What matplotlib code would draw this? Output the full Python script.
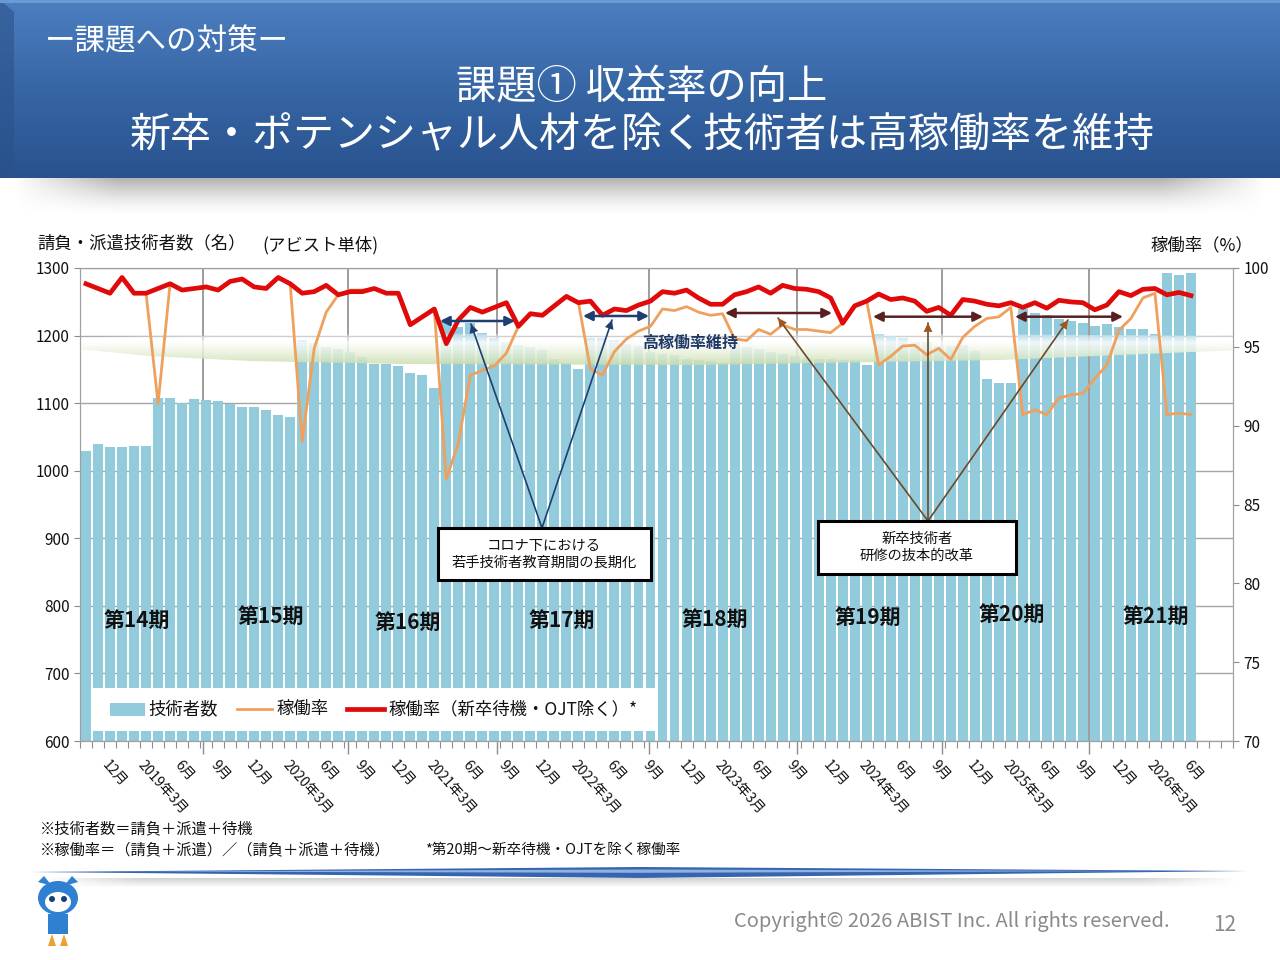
import numpy as np
import matplotlib
matplotlib.use('Agg')
import matplotlib.pyplot as plt
from matplotlib.patches import Polygon, Rectangle, Ellipse, Circle
from matplotlib.lines import Line2D
import matplotlib.transforms as mtransforms

plt.rcParams['font.family'] = ['Noto Sans CJK JP', 'DejaVu Sans']

# ---------------- data ----------------
engineers = [1029, 1039, 1035, 1035, 1036, 1036, 1108, 1107, 1100, 1106, 1104, 1103,
             1098, 1095, 1095, 1090, 1083, 1079, 1194, 1189, 1183, 1180, 1175, 1169,
             1158, 1158, 1155, 1145, 1141, 1122, 1220, 1212, 1218, 1204, 1196, 1191,
             1186, 1183, 1178, 1166, 1160, 1150, 1196, 1196, 1193, 1187, 1185, 1175,
             1173, 1171, 1166, 1164, 1162, 1160, 1189, 1183, 1180, 1176, 1172, 1170,
             1167, 1166, 1166, 1164, 1164, 1156, 1203, 1199, 1196, 1190, 1190, 1184,
             1184, 1186, 1177, 1135, 1130, 1130, 1240, 1234, 1230, 1225, 1221, 1218,
             1214, 1217, 1212, 1210, 1209, 1202, 1292, 1290, 1293]

util_excl = [99.0, 98.7, 98.4, 99.4, 98.4, 98.4, 98.7, 99.0, 98.6, 98.7, 98.8, 98.6,
             99.15, 99.3, 98.8, 98.7, 99.4, 99.0, 98.4, 98.5, 98.9, 98.3, 98.5, 98.5,
             98.7, 98.4, 98.4, 96.4, 96.9, 97.4, 95.2, 96.7, 97.5, 97.2, 97.5, 97.8,
             96.3, 97.1, 97.0, 97.6, 98.2, 97.8, 97.9, 97.0, 97.4, 97.3, 97.65, 97.9,
             98.5, 98.4, 98.6, 98.1, 97.7, 97.7, 98.3, 98.5, 98.8, 98.4, 98.9, 98.7,
             98.65, 98.5, 98.1, 96.5, 97.6, 97.9, 98.35, 98.0, 98.1, 97.9, 97.25, 97.5,
             97.0, 98.0, 97.9, 97.7, 97.6, 97.8, 97.5, 97.8, 97.45, 97.95, 97.85, 97.8,
             97.35, 97.65, 98.5, 98.25, 98.65, 98.7, 98.3, 98.45, 98.25]

util_all = [99.0, 98.7, 98.4, 99.4, 98.4, 98.4, 91.4, 99.0, 98.6, 98.7, 98.8, 98.6,
            99.15, 99.3, 98.8, 98.7, 99.4, 99.0, 89.0, 94.9, 97.2, 98.3, 98.6, 98.6,
            98.7, 98.4, 98.4, 96.4, 96.9, 97.4, 86.6, 88.9, 93.2, 93.5, 93.8, 94.6,
            96.3, 97.1, 97.0, 97.6, 98.2, 97.8, 93.6, 93.2, 94.7, 95.5, 96.0, 96.3,
            97.4, 97.3, 97.55, 97.2, 97.0, 97.1, 95.5, 95.4, 96.1, 95.8, 96.4, 96.1,
            96.1, 96.0, 95.9, 96.5, 97.6, 97.9, 93.85, 94.4, 95.05, 95.1, 94.5, 94.9,
            94.2, 95.6, 96.3, 96.8, 96.9, 97.5, 90.7, 91.0, 90.7, 91.75, 91.95, 92.05,
            93.0, 93.85, 96.05, 96.8, 98.1, 98.4, 90.7, 90.8, 90.7]

tick_labels = ['12月', '2019年3月', '6月', '9月', '12月', '2020年3月', '6月', '9月',
               '12月', '2021年3月', '6月', '9月', '12月', '2022年3月', '6月', '9月',
               '12月', '2023年3月', '6月', '9月', '12月', '2024年3月', '6月', '9月',
               '12月', '2025年3月', '6月', '9月', '12月', '2026年3月', '6月']
tick_index = [2 + 3 * k for k in range(len(tick_labels))]

period_labels = ['第14期', '第15期', '第16期', '第17期', '第18期', '第19期', '第20期', '第21期']
period_x = [4.25, 15.4, 26.8, 39.6, 52.4, 65.1, 77.1, 89.1]
period_y = [779, 785, 776, 779, 780.5, 783.5, 788, 785]

year_grid = [9.74, 21.8, 34.2, 46.9, 59.2, 71.3, 83.5]

# ---------------- figure ----------------
W, H = 1280, 960
fig = plt.figure(figsize=(12.8, 9.6), dpi=100)
fig.patch.set_facecolor('white')

def fx(px):
    return px / W

def fy(py):
    return 1 - py / H

bg = fig.add_axes([0, 0, 1, 1])
bg.set_xlim(0, W)
bg.set_ylim(H, 0)
bg.axis('off')
bg.set_zorder(0)

# header banner gradient
t = np.linspace(0, 1, 180)[:, None]
top = np.array([0x4c, 0x7e, 0xc0]) / 255
mid = np.array([0x37, 0x66, 0xa5]) / 255
bot = np.array([0x28, 0x52, 0x8e]) / 255
col = np.where(t < 0.5, top + (mid - top) * (t / 0.5), mid + (bot - mid) * ((t - 0.5) / 0.5))
grad = np.repeat(col[:, None, :], 2, axis=1).reshape(180, 2, 3)
bg.imshow(grad, extent=[0, W, 178, 0], aspect='auto', interpolation='bilinear', zorder=1)
bg.add_patch(Polygon([[0, 0], [14, 12], [14, 166], [0, 178]], closed=True,
                     facecolor='#2a528a', edgecolor='none', alpha=0.6, zorder=2))
bg.add_patch(Rectangle((0, 0), W, 3, facecolor='#6a9ad6', edgecolor='none', zorder=2))

# shadow under banner
sh_h, sh_w = 40, 200
vy = np.linspace(1, 0, sh_h)[:, None] ** 1.5
hx = np.clip(np.minimum(np.linspace(0, 1, sh_w), np.linspace(1, 0, sh_w)) * 12, 0, 1)[None, :]
shadow = np.zeros((sh_h, sh_w, 4))
shadow[..., :3] = 0.45
shadow[..., 3] = 0.55 * vy * hx
bg.imshow(shadow, extent=[10, 1270, 216, 178], aspect='auto', interpolation='bilinear', zorder=1)

bg.text(45, 42, 'ー課題への対策ー', color='white', fontsize=22, va='center', ha='left', zorder=3)
bg.text(642, 88, '課題① 収益率の向上', color='white', fontsize=29, va='center', ha='center', zorder=3)
bg.text(642, 136, '新卒・ポテンシャル人材を除く技術者は高稼働率を維持', color='white',
        fontsize=29.5, va='center', ha='center', zorder=3)

# axis titles
bg.text(37, 243, '請負・派遣技術者数（名）', fontsize=12.5, va='center', ha='left', color='#111111')
bg.text(262, 245, '(アビスト単体)', fontsize=12.5, va='center', ha='left', color='#111111')
bg.text(1150, 245, '稼働率（%）', fontsize=12.5, va='center', ha='left', color='#111111')

# footnotes
bg.text(40, 829, '※技術者数＝請負＋派遣＋待機', fontsize=11, va='center', ha='left', color='#111111')
bg.text(40, 850, '※稼働率＝（請負＋派遣）／（請負＋派遣＋待機）', fontsize=11, va='center',
        ha='left', color='#111111')
bg.text(425, 850, '*第20期～新卒待機・OJTを除く稼働率', fontsize=10.5, va='center', ha='left',
        color='#111111')

# footer line
bg.add_patch(Polygon([[30, 872], [640, 867], [1248, 871], [640, 878]], closed=True,
                     facecolor='#3565ae', edgecolor='none', zorder=2))
bg.add_patch(Polygon([[120, 871.5], [640, 869.5], [1160, 871], [640, 872.8]], closed=True,
                     facecolor='#8fb2e2', edgecolor='none', zorder=3))
fsh = np.zeros((10, 200, 4))
fsh[..., :3] = 0.5
fsh[..., 3] = (np.linspace(0.35, 0, 10)[:, None]) * hx
bg.imshow(fsh, extent=[40, 1240, 888, 878], aspect='auto', interpolation='bilinear', zorder=1)

bg.text(952, 922, 'Copyright© 2026 ABIST Inc. All rights reserved.', fontsize=14.5, color='#8a8a8a',
        va='center', ha='center')
bg.text(1225, 925, '12', fontsize=15, color='#8a8a8a', va='center', ha='center')

# simple mascot mark
blue = '#2f80d0'
bg.add_patch(Polygon([[38, 882], [44, 876], [52, 886]], closed=True, facecolor=blue, edgecolor='none', zorder=2))
bg.add_patch(Polygon([[78, 882], [72, 876], [64, 886]], closed=True, facecolor=blue, edgecolor='none', zorder=2))
bg.add_patch(Ellipse((58, 898), 40, 34, facecolor=blue, edgecolor='none', zorder=2))
bg.add_patch(Ellipse((58, 902), 26, 20, facecolor='white', edgecolor='none', zorder=3))
bg.add_patch(Circle((52, 899), 3, facecolor='#1a3e7a', edgecolor='none', zorder=4))
bg.add_patch(Circle((64, 899), 3, facecolor='#1a3e7a', edgecolor='none', zorder=4))
bg.add_patch(Rectangle((48, 914), 20, 20, facecolor=blue, edgecolor='none', zorder=2))
bg.add_patch(Polygon([[52, 934], [56, 946], [48, 946]], closed=True, facecolor='#f0a030', edgecolor='none'))
bg.add_patch(Polygon([[64, 934], [68, 946], [60, 946]], closed=True, facecolor='#f0a030', edgecolor='none'))

# ---------------- main chart ----------------
ax = fig.add_axes([fx(80), fy(741), (1233 - 80) / W, (741 - 268) / H])
ax.set_zorder(1)
ax.patch.set_alpha(0)
n = len(engineers)
x = np.arange(n)

ax.set_xlim(-0.5, 95.5)
ax.set_ylim(600, 1300)
ax.set_yticks(np.arange(600, 1301, 100))
ax.yaxis.grid(True, color='#a6a6a6', lw=1.0, zorder=0)
ax.set_axisbelow(True)
for g in year_grid:
    ax.axvline(g, color='#8c8c8c', lw=1.2, zorder=0.5)

ax.bar(x, engineers, width=0.83, color='#92cbdc', zorder=2)

def dxp(px):
    return (px - 80) / 1153 * 96 - 0.5

def dyl(py):
    return 1300 - (py - 268) / 473 * 700

def dyr(py):
    return 100 - (py - 268) / 473 * 30

# green band ("高稼働率維持")
band_pts_px = [(78, 337), (400, 334), (800, 333), (1240, 336), (1240, 350), (1000, 360),
               (700, 365), (400, 364), (250, 361), (150, 356), (78, 349)]
band_poly = Polygon([(dxp(a), dyl(b)) for a, b in band_pts_px], closed=True,
                    facecolor='none', edgecolor='none', transform=ax.transData)
ax.add_patch(band_poly)
nb = 80
tt = np.linspace(0, 1, nb)
white = np.array([1.0, 1.0, 1.0])
green = np.array([0xc8, 0xdc, 0xa8]) / 255
bcol = np.array([white + (green - white) * min(1, max(0, (v - 0.3) / 0.7)) ** 1.1 for v in tt])
balpha = np.clip(0.2 + tt * 2.2, 0, 0.85)
band_img = np.zeros((nb, 2, 4))
band_img[:, :, :3] = bcol[:, None, :]
band_img[:, :, 3] = balpha[:, None]
im = ax.imshow(band_img, extent=[dxp(78), dxp(1240), dyl(366), dyl(332)], aspect='auto',
               interpolation='bilinear', zorder=3, origin='upper')
im.set_clip_path(band_poly)
ax.set_ylim(600, 1300)
ax.set_xlim(-0.5, 95.5)

# ticks
ax.set_xticks(year_grid)
ax.set_xticklabels([])
ax.set_xticks(np.arange(-0.5, 96, 1), minor=True)
ax.tick_params(axis='x', which='major', length=9, color='#8c8c8c', width=1)
ax.tick_params(axis='x', which='minor', length=5, color='#8c8c8c', width=0.8)
ax.tick_params(axis='y', length=4, color='#8c8c8c', labelsize=11, labelcolor='#111111')
for s in ['left', 'bottom', 'top', 'right']:
    ax.spines[s].set_color('#a0a0a0')

trans = mtransforms.blended_transform_factory(ax.transData, fig.transFigure)
for i, lab in zip(tick_index, tick_labels):
    ax.text(i - 0.45, fy(763), lab, transform=trans, rotation=-48, rotation_mode='anchor',
            ha='left', va='center', fontsize=10, color='#111111')

for lab, px_, py_ in zip(period_labels, period_x, period_y):
    ax.text(px_, py_, lab, fontsize=15, fontweight='bold', ha='center', va='center',
            color='#111111', zorder=4)

# right axis
ax2 = ax.twinx()
ax2.set_ylim(70, 100)
ax2.set_yticks(np.arange(70, 101, 5))
ax2.tick_params(axis='y', length=4, color='#8c8c8c', labelsize=11, labelcolor='#111111')
for s in ['left', 'bottom', 'top', 'right']:
    ax2.spines[s].set_color('#a0a0a0')

ax2.plot(x, util_all, color='#efa05c', lw=2.0, zorder=3, solid_joinstyle='round')
ax2.plot(x, util_excl, color='#e00a0a', lw=3.4, zorder=4, solid_joinstyle='round')

ax2.text(dxp(690), dyr(343), '高稼働率維持', fontsize=11.5, fontweight='bold', color='#1f3864',
         ha='center', va='center', zorder=6)

# double arrows
navy = '#1f3f70'
maroon = '#5a2020'
spans = [(440, 515, 321, navy), (583, 649, 316, navy), (725, 832, 313, maroon),
         (873, 983, 316.7, maroon), (1015, 1123, 316.7, maroon)]
for a, b, yy, c in spans:
    ax2.annotate('', xy=(dxp(b), dyr(yy)), xytext=(dxp(a), dyr(yy)),
                 arrowprops=dict(arrowstyle='<|-|>', color=c, lw=1.8, mutation_scale=14,
                                 shrinkA=0, shrinkB=0), annotation_clip=False, zorder=7)

# pointer lines
ptrs = [((542, 528), (471, 324), navy, navy),
        ((542, 528), (612, 320), navy, navy),
        ((928, 521), (778, 318), '#6b4a2a', '#a0561c'),
        ((928, 521), (928, 323), '#6b4a2a', '#a0561c'),
        ((928, 521), (1068, 320), '#6b4a2a', '#a0561c')]
for (sx, sy), (ex, ey), lc, hc in ptrs:
    ax2.annotate('', xy=(dxp(ex), dyr(ey)), xytext=(sx, H - sy), textcoords='figure pixels',
                 arrowprops=dict(arrowstyle='-', color=lc, lw=1.2, shrinkA=0, shrinkB=0),
                 annotation_clip=False, zorder=7)
    ax2.annotate('', xy=(dxp(ex), dyr(ey)), xytext=(sx, H - sy), textcoords='figure pixels',
                 arrowprops=dict(arrowstyle='-|>', color=hc, lw=0.01, mutation_scale=16,
                                 shrinkA=0, shrinkB=0), annotation_clip=False, zorder=7)

def fig_rect(x0, y0, x1, y1, **kw):
    r = Rectangle((fx(x0), fy(y1)), (x1 - x0) / W, (y1 - y0) / H, transform=fig.transFigure,
                  clip_on=False, **kw)
    ax2.add_patch(r)
    return r

# callout boxes
fig_rect(438, 528, 651, 580, facecolor='white', edgecolor='black', lw=2.2, zorder=8)
ax2.text(fx(544), fy(554), 'コロナ下における\n若手技術者教育期間の長期化', transform=fig.transFigure,
         fontsize=10.3, ha='center', va='center', linespacing=1.25, zorder=9, color='#111111')
fig_rect(818, 521, 1016, 574, facecolor='white', edgecolor='black', lw=2.2, zorder=8)
ax2.text(fx(917), fy(547), '新卒技術者\n研修の抜本的改革', transform=fig.transFigure,
         fontsize=10.3, ha='center', va='center', linespacing=1.25, zorder=9, color='#111111')

# legend (manual)
fig_rect(92, 688, 656, 731, facecolor='white', edgecolor='none', zorder=8)
fig_rect(110, 703, 145, 716, facecolor='#92cbdc', edgecolor='none', zorder=9)
ax2.add_line(Line2D([fx(237), fx(272)], [fy(709), fy(709)], transform=fig.transFigure,
                    color='#efa05c', lw=2.0, zorder=9, clip_on=False))
ax2.add_line(Line2D([fx(347), fx(384)], [fy(709), fy(709)], transform=fig.transFigure,
                    color='#e00a0a', lw=3.4, zorder=9, clip_on=False))
for tx, s in [(148, '技術者数'), (276, '稼働率'), (388, '稼働率（新卒待機・OJT除く）*')]:
    ax2.text(fx(tx), fy(709), s, transform=fig.transFigure, fontsize=12.5, ha='left',
             va='center', zorder=9, color='#111111')

fig.savefig('out.png', dpi=100)
